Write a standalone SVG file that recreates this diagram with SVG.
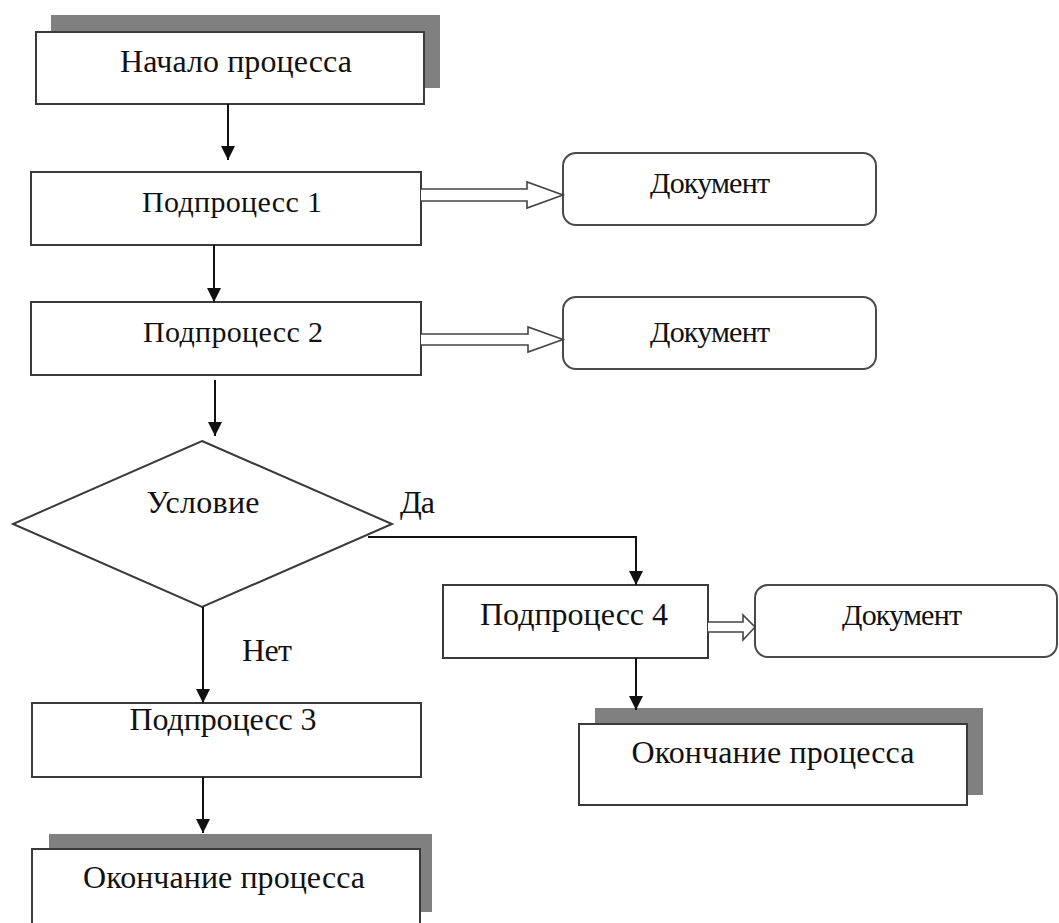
<svg xmlns="http://www.w3.org/2000/svg" width="1059" height="923" viewBox="0 0 1059 923">
<style>
.box{fill:#fff;stroke:#3a3a3a;stroke-width:2}
.shadow{fill:#808080;stroke:none}
.doc{fill:#fff;stroke:#4a4a4a;stroke-width:2}
.t{font-family:"Liberation Serif","Times New Roman",serif;font-size:32px;fill:#111;text-anchor:middle}
.tn{font-family:"Liberation Serif","Times New Roman",serif;font-size:30px;fill:#111;text-anchor:middle}
.tl{font-family:"Liberation Serif","Times New Roman",serif;font-size:32px;fill:#111}
.conn{fill:none;stroke:#111;stroke-width:2}
.hollow{fill:#fff;stroke:#444;stroke-width:1.6;stroke-linejoin:miter}
</style>
<defs>
<marker id="arr" markerUnits="userSpaceOnUse" viewBox="0 0 14 14" refX="14" refY="7" markerWidth="14" markerHeight="14" orient="auto">
<path d="M0,0 L14,7 L0,14 z" fill="#111"/>
</marker>
</defs>
<rect width="1059" height="923" fill="#fff"/>

<g id="start">
<rect class="shadow" x="51" y="15" width="389" height="73"/>
<rect class="box" x="36" y="32" width="388" height="72"/>
<text class="t" x="236" y="72" textLength="232">Начало процесса</text>
</g>

<g id="sub1">
<rect class="box" x="31" y="172" width="390" height="73"/>
<text class="tn" x="232" y="212" textLength="180">Подпроцесс  1</text>
</g>

<g id="doc1">
<rect class="doc" x="563" y="153" width="313" height="72" rx="13"/>
<text class="tn" x="710" y="193" textLength="120">Документ</text>
</g>

<g id="sub2">
<rect class="box" x="31" y="302" width="390" height="73"/>
<text class="tn" x="233" y="342" textLength="180">Подпроцесс  2</text>
</g>

<g id="doc2">
<rect class="doc" x="563" y="297" width="313" height="72" rx="13"/>
<text class="tn" x="710" y="342" textLength="120">Документ</text>
</g>

<g id="cond">
<polygon class="box" points="202,441 392,524 202,607 13,524"/>
<text class="t" x="203" y="513" textLength="113">Условие</text>
</g>

<g id="sub3">
<rect class="box" x="32" y="703" width="389" height="74"/>
<text class="t" x="223" y="730" textLength="187">Подпроцесс 3</text>
</g>

<g id="end1">
<rect class="shadow" x="49" y="834" width="383" height="78"/>
<rect class="box" x="32" y="849" width="388" height="85"/>
<text class="t" x="224" y="888" textLength="282">Окончание процесса</text>
</g>

<g id="sub4">
<rect class="box" x="443" y="585" width="265" height="73"/>
<text class="t" x="574" y="625" textLength="188">Подпроцесс 4</text>
</g>

<g id="doc3">
<rect class="doc" x="755" y="585" width="302" height="72" rx="13"/>
<text class="tn" x="902" y="625" textLength="120">Документ</text>
</g>

<g id="end2">
<rect class="shadow" x="595" y="708" width="388" height="87"/>
<rect class="box" x="579" y="724" width="388" height="81"/>
<text class="t" x="773" y="763" textLength="283">Окончание процесса</text>
</g>

<g id="connectors">
<line class="conn" x1="228" y1="104" x2="228" y2="160" marker-end="url(#arr)"/>
<line class="conn" x1="214" y1="245" x2="214" y2="302" marker-end="url(#arr)"/>
<line class="conn" x1="215" y1="380" x2="215" y2="436" marker-end="url(#arr)"/>
<polyline class="conn" points="368,537 636,537 636,585" marker-end="url(#arr)"/>
<line class="conn" x1="203" y1="607" x2="203" y2="703" marker-end="url(#arr)"/>
<line class="conn" x1="203" y1="777" x2="203" y2="833" marker-end="url(#arr)"/>
<line class="conn" x1="636" y1="658" x2="636" y2="710" marker-end="url(#arr)"/>
<path class="hollow" d="M421,189 L527,189 L527,182 L563,195 L527,208 L527,201 L421,201"/>
<path class="hollow" d="M421,334 L528,334 L528,327 L563,339.5 L528,352 L528,345 L421,345"/>
<path class="hollow" d="M708,622 L743,622 L743,615 L755,627 L743,640 L743,632 L708,632"/>
<text class="tl" x="400" y="513" textLength="35">Да</text>
<text class="tl" x="242" y="661" textLength="50">Нет</text>
</g>
</svg>
